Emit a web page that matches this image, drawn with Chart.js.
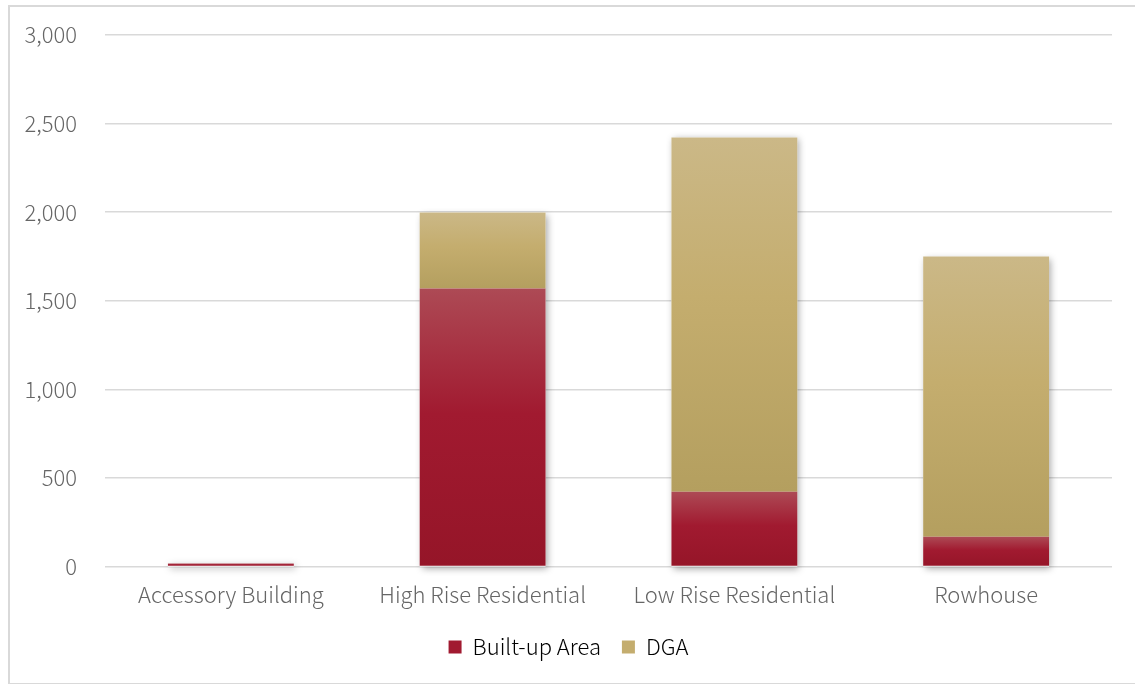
<!DOCTYPE html>
<html>
<head>
<meta charset="utf-8">
<script src="https://cdn.jsdelivr.net/npm/chart.js@4"></script>
<style>
  html, body { margin: 0; padding: 0; background: #fff; }
  #frame { position: absolute; left: 8px; top: 5px; width: 1140px; height: 680px; border: 2px solid #d9d9d9; box-sizing: border-box; }
  #wrap { position: absolute; left: 0; top: 0; width: 1135px; height: 684px; }
</style>
</head>
<body>
<div id="frame"></div>
<div id="wrap"><canvas id="chartLite"></canvas></div>
<script>
const categories = ['Accessory Building', 'High Rise Residential', 'Low Rise Residential', 'Rowhouse'];
const builtUp = [18, 1570, 422, 168];
const dga = [0, 428, 2000, 1582];
const yTicks = [0, 500, 1000, 1500, 2000, 2500, 3000];

// gradient for one stacked segment, from its bottom to its top
function segGradient(ctx, top, bottom, stops) {
    const chart = ctx.chart;
    if (!chart.chartArea) return stops[1];
    const y = chart.scales.y;
    const yt = y.getPixelForValue(top);
    const yb = y.getPixelForValue(bottom);
    if (yb - yt < 1) return stops[1];
    const g = chart.ctx.createLinearGradient(0, yt, 0, yb);
    g.addColorStop(0, stops[0]);
    g.addColorStop(0.45, stops[1]);
    g.addColorStop(1, stops[2]);
    return g;
}

const redStops = ['#ad4a55', '#a11a30', '#951528'];
const goldStops = ['#cbb887', '#c4ad6e', '#b49f5f'];

// soft shadow behind each full stack
const stackShadow = {
    id: 'stackShadow',
    beforeDatasetsDraw(chart) {
        const c = chart.ctx;
        const y = chart.scales.y;
        const meta = chart.getDatasetMeta(0);
        c.save();
        c.shadowColor = 'rgba(0,0,0,0.35)';
        c.shadowBlur = 7;
        c.shadowOffsetX = 2;
        c.shadowOffsetY = 2;
        c.fillStyle = '#ffffff';
        meta.data.forEach((bar, i) => {
            const total = builtUp[i] + dga[i];
            const yt = y.getPixelForValue(total);
            const yb = y.getPixelForValue(0);
            c.fillRect(bar.x - bar.width / 2, yt, bar.width, yb - yt);
        });
        c.restore();
    }
};

Chart.defaults.font.family = '"Noto Sans CJK JP", "Noto Sans", sans-serif';
Chart.defaults.font.size = 22;
Chart.defaults.font.weight = 300;
Chart.defaults.color = '#666666';

let data = {
    labels: categories,
    datasets: [{
        label: 'Built-up Area',
        data: builtUp,
        backgroundColor: (ctx) => segGradient(ctx, builtUp[ctx.dataIndex], 0, redStops),
        barPercentage: 1,
        categoryPercentage: 0.5
    }, {
        label: 'DGA',
        data: dga,
        backgroundColor: (ctx) => segGradient(ctx, builtUp[ctx.dataIndex] + dga[ctx.dataIndex], builtUp[ctx.dataIndex], goldStops),
        barPercentage: 1,
        categoryPercentage: 0.5
    }]
};

let options = {
    responsive: true,
    maintainAspectRatio: false,
    animation: false,
    layout: {
        padding: { left: 25, right: 23, top: 10, bottom: 16 }
    },
    scales: {
        x: {
            stacked: true,
            grid: { display: false },
            border: { display: false },
            ticks: { color: '#666666', padding: 7, maxRotation: 0, autoSkip: false }
        },
        y: {
            stacked: true,
            min: 0,
            max: 3000,
            afterBuildTicks: (axis) => { axis.ticks = yTicks.map(v => ({ value: v })); },
            afterFit: (axis) => { axis.width = 80; axis.paddingTop = 35; },
            grid: { color: '#d9d9d9', lineWidth: 1.5, drawTicks: false },
            border: { display: false },
            ticks: {
                color: '#666666',
                padding: 28,
                callback: (v) => v.toLocaleString('en-US')
            }
        }
    },
    plugins: {
        tooltip: { enabled: false },
        legend: {
            position: 'bottom',
            labels: {
                color: '#666666',
                boxWidth: 13,
                boxHeight: 13,
                padding: 21,
                generateLabels: (chart) => [
                    { text: 'Built-up Area', fillStyle: '#a11a30', strokeStyle: '#a11a30', lineWidth: 0, datasetIndex: 0 },
                    { text: 'DGA', fillStyle: '#c4ad6e', strokeStyle: '#c4ad6e', lineWidth: 0, datasetIndex: 1 }
                ]
            }
        }
    }
};

const ctx = document.getElementById('chartLite').getContext('2d');
const myChart = new Chart(ctx, {
    type: 'bar',
    data: data,
    options: options,
    plugins: [stackShadow]
});
</script>
</body>
</html>
